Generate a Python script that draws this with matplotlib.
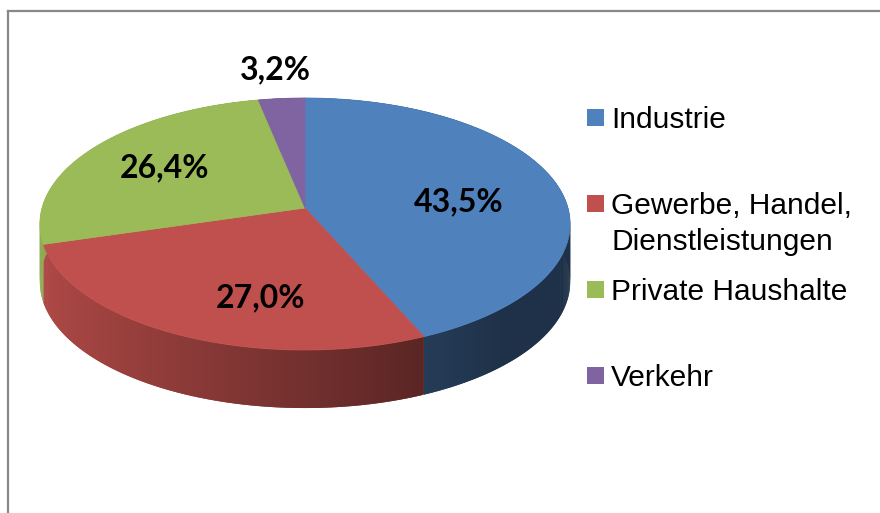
import numpy as np
import matplotlib.pyplot as plt
from matplotlib.collections import PolyCollection
from matplotlib.patches import Polygon, Rectangle
from matplotlib.lines import Line2D
from matplotlib.colors import to_rgb

# Daten
labels = ['Industrie', 'Gewerbe, Handel,\nDienstleistungen', 'Private Haushalte', 'Verkehr']
shares = [43.5, 27.0, 26.4, 3.2]
pct_labels = ['43,5%', '27,0%', '26,4%', '3,2%']
colors = ['#4f81bd', '#c0504d', '#9bbb59', '#8064a2']

# Geometrie der 3D-Torte (Pixel)
CX, CY = 305, 208
RX, RY = 263, 124
K = 0.127        # Perspektive
DEPTH = 58

# Position der Beschriftungen (Radius, Winkelkorrektur)
lab_r = [0.59, 0.68, 0.65, 1.30]
lab_shift = [-7.0, 11.7, 0.0, 0.0]


def project(r, theta):
    t = np.radians(theta)
    u = r * np.cos(t)
    v = r * np.sin(t)
    s = 1.0 / (1.0 + K * v)
    return CX + RX * u * s, CY - RY * v * s


def shade(u):
    return max(0.38, 0.92 - 0.45 * (u + 1) / 1.4)


fig = plt.figure(figsize=(8.8, 5.13), dpi=100)
ax = fig.add_axes([0, 0, 1, 1])
ax.set_xlim(0, 880)
ax.set_ylim(513, 0)
ax.axis('off')

# Rahmen
fig.add_artist(Line2D([7.5 / 880, 1], [1 - 11 / 513, 1 - 11 / 513], color='#888888', lw=1.6))
fig.add_artist(Line2D([7.5 / 880, 7.5 / 880], [0, 1 - 11 / 513], color='#888888', lw=1.6))

cum = np.concatenate([[0], np.cumsum(shares)]) / sum(shares) * 360
edges = 90 - cum

# Seitenflaechen (ueberlappende Streifen, damit keine Naehte sichtbar sind)
quads, qcols = [], []
for i, c in enumerate(colors):
    base = np.array(to_rgb(c))
    th = np.linspace(edges[i], edges[i + 1], max(4, int(abs(edges[i] - edges[i + 1]) * 2)))
    x, y = project(1.0, th)
    for j in range(len(th) - 1):
        k = min(j + 2, len(th) - 1)
        quads.append([(x[j], y[j]), (x[k], y[k]), (x[k], y[k] + DEPTH), (x[j], y[j] + DEPTH)])
        tm = np.radians(th[j])
        qcols.append(np.clip(base * shade(np.cos(tm)), 0, 1))
ax.add_collection(PolyCollection(quads, facecolors=qcols, edgecolors='none', linewidths=0))

# Deckflaechen
for i, c in enumerate(colors):
    th = np.linspace(edges[i], edges[i + 1], 200)
    x, y = project(1.0, th)
    pts = [(CX, CY)] + list(zip(x, y))
    ax.add_patch(Polygon(pts, closed=True, facecolor=c, edgecolor=c, lw=0.5))

# Prozentwerte
for i, txt in enumerate(pct_labels):
    mid = (edges[i] + edges[i + 1]) / 2 + lab_shift[i]
    lx, ly = project(lab_r[i], mid)
    ax.text(lx, ly, txt, ha='center', va='center', fontsize=23,
            fontweight='bold', family=['Lato', 'DejaVu Sans'], color='black')

# Legende
for i, (lab, c) in enumerate(zip(labels, colors)):
    base_y = 128 + 86 * i
    ax.add_patch(Rectangle((587, base_y - 19), 17, 17, facecolor=c, edgecolor='none'))
    for j, line in enumerate(lab.split('\n')):
        ax.text(611, base_y + 36 * j, line, ha='left', va='baseline', fontsize=21.5,
                family=['Liberation Sans', 'DejaVu Sans'], color='black')

fig.savefig('out.png', dpi=100)
